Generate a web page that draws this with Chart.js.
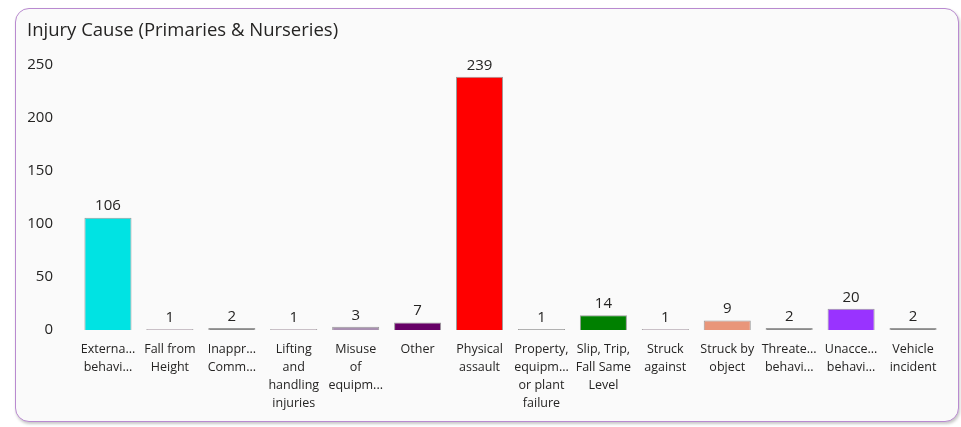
<!DOCTYPE html>
<html>
<head>
<meta charset="utf-8">
<script src="https://cdn.jsdelivr.net/npm/chart.js@4/dist/chart.umd.min.js"></script>
<style>
  body { margin: 0; background: #ffffff; }
  #card {
    position: absolute; left: 15px; top: 8px; width: 942px; height: 412px;
    border: 1.5px solid #b98ad0; border-radius: 14px; background: #fafafa;
    box-shadow: 1px 2px 3px rgba(0,0,0,0.22);
  }
  #card canvas { position: absolute; left: 0; top: 0; }
</style>
</head>
<body>
<div id="card"><canvas id="injuryChart" width="942" height="413"></canvas></div>
<script>
const categories = [
  ["Externa...", "behavi..."], ["Fall from", "Height"], ["Inappr...", "Comm..."],
  ["Lifting", "and", "handling", "injuries"], ["Misuse", "of", "equipm..."], ["Other"],
  ["Physical", "assault"], ["Property,", "equipm...", "or plant", "failure"],
  ["Slip, Trip,", "Fall Same", "Level"], ["Struck", "against"], ["Struck by", "object"],
  ["Threate...", "behavi..."], ["Unacce...", "behavi..."], ["Vehicle", "incident"]
];
const counts = [106, 1, 2, 1, 3, 7, 239, 1, 14, 1, 9, 2, 20, 2];
const barColors = ["#00e3e3", "#c9b8c6", "#8a8a8a", "#c9b8c6", "#a88fb0", "#660066",
  "#ff0000", "#9a9a9a", "#008000", "#c9b8c6", "#e9967a", "#8a8a8a", "#9933ff", "#8a8a8a"];
const yTicks = [0, 50, 100, 150, 200, 250];

const FONT = "'Open Sans', 'Noto Sans', sans-serif";

// value labels above each bar
const valueLabels = {
  id: "valueLabels",
  afterDatasetsDraw(chart) {
    const ctx = chart.ctx;
    const meta = chart.getDatasetMeta(0);
    ctx.save();
    ctx.font = "15px " + FONT;
    ctx.fillStyle = "#252423";
    ctx.textAlign = "center";
    ctx.textBaseline = "bottom";
    meta.data.forEach((bar, i) => {
      ctx.fillText(counts[i], bar.x, bar.y - 4);
    });
    ctx.restore();
  }
};

new Chart(document.getElementById("injuryChart").getContext("2d"), {
  type: "bar",
  data: {
    labels: categories,
    datasets: [{
      data: counts,
      backgroundColor: barColors,
      borderColor: "#9a9a9a",
      borderWidth: 1,
      categoryPercentage: 1,
      barPercentage: 0.76
    }]
  },
  options: {
    responsive: false,
    animation: false,
    layout: { padding: { left: 11, right: 14, top: 0, bottom: 0 } },
    plugins: {
      legend: { display: false },
      tooltip: { enabled: false },
      title: {
        display: true,
        text: "Injury Cause (Primaries & Nurseries)",
        align: "start",
        color: "#252423",
        font: { family: FONT, size: 18.5, weight: "normal" },
        padding: { top: 11, bottom: 23 }
      }
    },
    scales: {
      x: {
        grid: { display: false, drawTicks: false },
        border: { display: false },
        ticks: {
          autoSkip: false, maxRotation: 0, padding: 10,
          color: "#252423",
          font: { family: FONT, size: 12.5, lineHeight: 1.44 }
        }
      },
      y: {
        min: yTicks[0], max: yTicks[yTicks.length - 1],
        grid: { display: false, drawTicks: false },
        border: { display: false },
        afterFit: axis => { axis.width = 50; },
        ticks: {
          stepSize: yTicks[1] - yTicks[0],
          padding: 24,
          color: "#252423",
          font: { family: FONT, size: 15 }
        }
      }
    }
  },
  plugins: [valueLabels]
});
</script>
</body>
</html>
